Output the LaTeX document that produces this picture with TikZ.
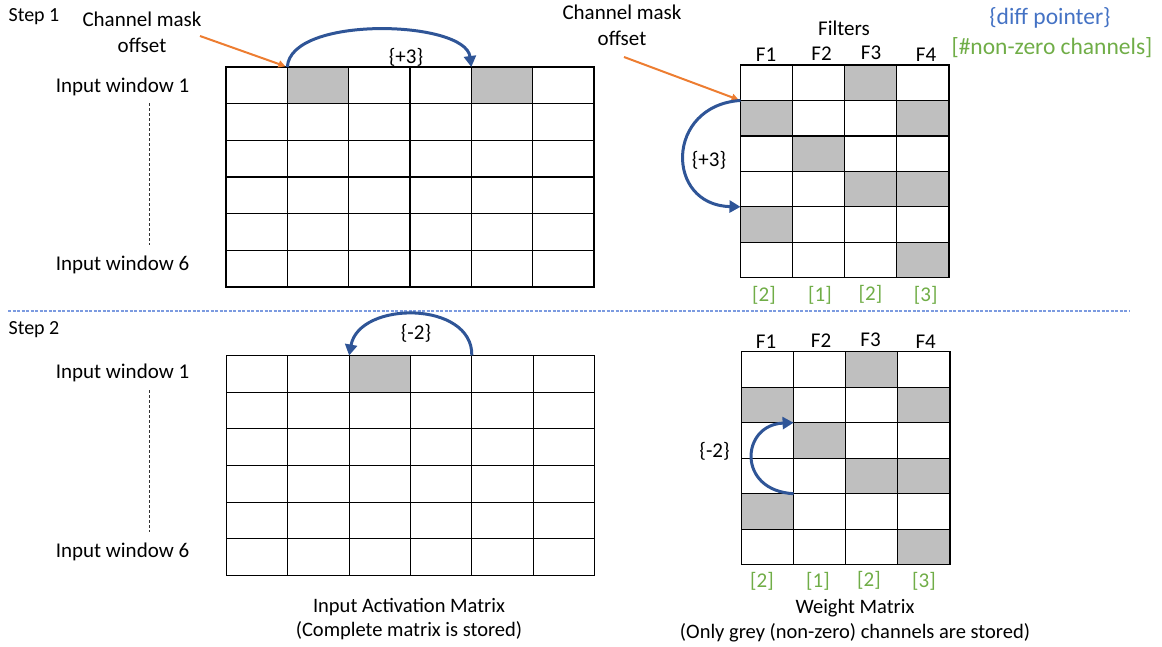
\documentclass[tikz,border=0pt]{standalone}
\usepackage{fontspec}
\setmainfont{Carlito}
\usetikzlibrary{arrows.meta}
\definecolor{cellgrey}{HTML}{BFBFBF}
\definecolor{arcblue}{HTML}{2F5597}
\definecolor{offorange}{HTML}{ED7D31}
\definecolor{cntgreen}{HTML}{70AD47}
\definecolor{ptrblue}{HTML}{4472C4}
\definecolor{sepblue}{HTML}{7C9BE0}

% #1 name, #2 left, #3 top, #4 columns, #5 rows, #6 cell width, #7 cell height, #8 grey cells r/c
\newcommand{\cellgrid}[8]{%
  \foreach \r in {1,...,#5}{\foreach \c in {1,...,#4}{%
    \node[cellslot, minimum width=#6pt, minimum height=#7pt]
      (#1-\r-\c) at ({#2+(\c-1)*#6},{#3+(\r-1)*#7}) {};}}
  \foreach \r/\c in {#8}{\fill[cellgrey] (#1-\r-\c.north west) rectangle (#1-\r-\c.south east);}
  \foreach \r in {1,...,#5}{\foreach \c in {1,...,#4}{%
    \draw[gridline] (#1-\r-\c.north west) rectangle (#1-\r-\c.south east);}}
}

\begin{document}
\begin{tikzpicture}[x=1pt,y=-1pt,
  lbl/.style={font=\fontsize{21}{26}\selectfont, inner sep=0pt, align=center},
  small/.style={font=\fontsize{20}{24}\selectfont, inner sep=0pt},
  legend/.style={font=\fontsize{23.5}{27}\selectfont, inner sep=0pt},
  count/.style={lbl, text=cntgreen},
  cellslot/.style={anchor=north west, inner sep=0pt, outer sep=0pt},
  gridline/.style={draw=black, line width=1.2pt},
  arcarrow/.style={draw=arcblue, line width=3pt, -{Triangle[width=12pt,length=11pt]}},
  pointer/.style={draw=offorange, line width=2pt, -{Triangle[width=7pt,length=7pt]}},
  ellipsis/.style={draw=black!80, line width=0.8pt, dash pattern=on 3pt off 2pt},
  separator/.style={draw=sepblue, line width=1.1pt, dash pattern=on 3pt off 1.5pt}
]
\useasboundingbox (0,0) rectangle (1162,646);

% ---------------- Step 1 ----------------
\node[small] (step1) at (34,17) {Step 1};
\node[lbl] (maskA) at (142,32) {Channel mask\\offset};
\node[lbl] (iwA1) at (122.5,87) {Input window 1};
\node[lbl] (iwA6) at (122.5,265) {Input window 6};
\coordinate (dotsA1) at (149,103);
\coordinate (dotsA6) at (149,245);
\draw[ellipsis] (dotsA1) -- (dotsA6);

\cellgrid{actA}{226}{67}{6}{6}{61.33}{36.67}{1/2,1/5}

\node[lbl] (filtersA) at (844,28) {Filters};
\node[lbl] (maskB) at (622,25.5) {Channel mask\\offset};
\node[lbl] at (766,55) {F1};
\node[lbl] at (821.5,54) {F2};
\node[lbl] at (871,53) {F3};
\node[lbl] at (926,55) {F4};
\cellgrid{wtA}{740.5}{65}{4}{6}{52.1}{35.45}{1/3,2/1,2/4,3/2,4/3,4/4,5/1,6/4}
\node[count] (cA1) at (764,295) {[2]};
\node[count] (cA2) at (820,295) {[1]};
\node[count] (cA3) at (870.5,294) {[2]};
\node[count] (cA4) at (925.7,295) {[3]};

\node[legend, text=ptrblue] (diffptr) at (1050,18) {\{diff pointer\}};
\node[legend, text=cntgreen] (nzch) at (1052,47.7) {[\#non-zero channels]};

% offset pointers
\coordinate (maskAtail) at (200,36);
\coordinate (maskBtail) at (624,57);
\draw[pointer, shorten >=2pt] (maskAtail) -- (actA-1-2.north west);
\draw[pointer, shorten >=2pt] (maskBtail) -- (wtA-2-1.north west);

% diff pointer jumps
\draw[arcarrow] (actA-1-2.north west) .. controls +(3,-52) and +(-6,-47) .. (actA-1-5.north west);
\node[lbl] (jumpA) at (406,57) {\{+3\}};
\draw[arcarrow] (wtA-2-1.north west) .. controls +(-75.5,5) and +(-75.5,-1.6) .. (wtA-5-1.north west);
\node[lbl] (jumpB) at (709,160) {\{+3\}};

% separator
\coordinate (sepL) at (8,311);
\coordinate (sepR) at (1130,311);
\draw[separator] (sepL) -- (sepR);

% ---------------- Step 2 ----------------
\node[small] (step2) at (34,330) {Step 2};
\node[lbl] (iwB1) at (122.5,373) {Input window 1};
\node[lbl] (iwB6) at (122.5,552) {Input window 6};
\coordinate (dotsB1) at (149,390);
\coordinate (dotsB6) at (149,532);
\draw[ellipsis] (dotsB1) -- (dotsB6);

\cellgrid{actB}{226.5}{355.5}{6}{6}{61.33}{36.67}{1/3}

\node[lbl] at (766,341.7) {F1};
\node[lbl] at (821,340.7) {F2};
\node[lbl] at (870.5,339.3) {F3};
\node[lbl] at (925.7,341.7) {F4};
\cellgrid{wtB}{741.5}{351.7}{4}{6}{52.1}{35.5}{1/3,2/1,2/4,3/2,4/3,4/4,5/1,6/4}
\node[count] (cB1) at (762,581.7) {[2]};
\node[count] (cB2) at (818,581.7) {[1]};
\node[count] (cB3) at (869,580.5) {[2]};
\node[count] (cB4) at (924,581.7) {[3]};

\draw[arcarrow] (actB-1-5.north west) .. controls +(1,-55) and +(10,-55) .. (actB-1-3.north west);
\node[lbl] (jumpC) at (416,333) {\{-2\}};
\draw[arcarrow] (wtB-4-2.south west) .. controls +(-57,-3) and +(-53,2) .. (wtB-3-2.north west);
\node[lbl] (jumpD) at (714.6,451) {\{-2\}};

% captions
\node[lbl, font=\fontsize{20.5}{24}\selectfont] (capA) at (409,619) {Input Activation Matrix\\(Complete matrix is stored)};
\node[lbl, font=\fontsize{20.5}{24.7}\selectfont] (capB) at (855,620.5) {Weight Matrix\\(Only grey (non-zero) channels are stored)};
\end{tikzpicture}
\end{document}
